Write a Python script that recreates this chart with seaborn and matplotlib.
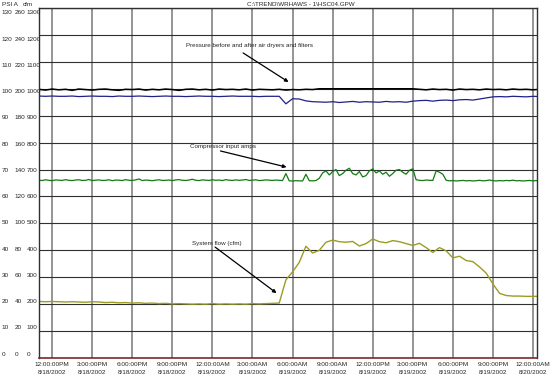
import numpy as np
import pandas as pd
import matplotlib
matplotlib.use("Agg")
import matplotlib.pyplot as plt
import matplotlib.dates as mdates
import matplotlib.transforms as mtransforms
import seaborn as sns

# ---------------- data ----------------
title = "C:\\TREND\\WRHAWS - 1\\HSC04.GPW"
times30 = pd.date_range("2002-08-18 11:00", periods=76, freq="30min")
times15 = pd.date_range("2002-08-18 11:00", periods=151, freq="15min")

pressure_before = [
    99.8, 99.5, 99.9, 99.6, 99.8, 99.4, 99.9, 99.7, 99.5, 99.8,
    99.9, 99.6, 99.4, 99.8, 99.7, 99.9, 99.5, 99.8, 99.6, 99.9,
    99.7, 99.4, 99.8, 99.9, 99.6, 99.8, 99.5, 99.9, 99.7, 99.8,
    99.6, 99.9, 99.5, 99.8, 99.7, 99.6, 99.8,
    99.5, 99.7, 99.6, 99.8, 99.7,
    100.0, 100.0, 100.0, 100.0, 100.0, 100.0, 100.0, 100.0, 100.0, 100.0,
    100.0, 100.0, 100.0, 100.0, 100.0,
    99.8, 99.6, 99.9, 99.7, 99.8, 99.5, 99.9, 99.7, 99.8, 99.6,
    99.9, 99.7, 99.8, 99.6, 99.9, 99.7, 99.8, 99.6, 99.8]

pressure_after = [
    97.3, 97.2, 97.3, 97.2, 97.2, 97.3, 97.1, 97.2, 97.3, 97.2,
    97.2, 97.1, 97.3, 97.2, 97.2, 97.3, 97.2, 97.1, 97.2, 97.3,
    97.2, 97.2, 97.1, 97.2, 97.3, 97.2, 97.2, 97.1, 97.2, 97.3,
    97.2, 97.2, 97.2, 97.1, 97.2, 97.2, 97.2,
    94.4, 96.3, 96.2, 95.5, 95.2, 95.1, 95.0, 95.2, 94.9, 95.1,
    95.3, 95.0, 95.2, 95.1, 95.0, 95.3, 95.1, 95.2, 95.0, 95.4,
    95.6, 95.7, 95.4, 95.7, 95.8, 95.6, 95.9, 96.0, 95.8, 96.2,
    96.6, 97.0,
    97.1, 97.0, 97.2, 97.1, 97.0, 97.2, 97.1]

compressor_amps = [
    132.2, 131.8, 132.4, 132.0, 131.7, 132.3, 132.1, 131.9, 132.5, 132.0,
    131.8, 132.2, 132.4, 131.9, 132.0, 132.6, 131.8, 132.1, 132.3, 131.9,
    132.0, 132.4, 131.7, 132.2, 132.1, 131.8, 132.5, 132.0, 131.9, 132.3,
    133.0, 131.8, 132.2, 132.0, 131.7, 132.1, 132.4, 131.9, 132.0, 132.2,
    131.8, 132.3, 132.5, 132.0, 131.9, 132.2, 132.8, 132.0, 131.8, 132.3,
    132.1, 131.9, 132.4, 132.0, 132.2, 131.8, 132.5, 132.1, 131.9, 132.3,
    132.0, 132.2, 132.6, 131.9, 132.1, 132.4, 131.8, 132.0, 132.3, 132.1,
    131.9, 132.2, 132.0, 131.8,
    137.0,
    131.6, 131.5, 131.7, 131.6, 131.5,
    136.5,
    131.7, 131.6, 131.8,
    133.5,
    137.5, 139.0, 136.0, 138.5, 140.0, 135.5, 137.0, 139.5, 141.0, 137.0,
    136.0, 138.5, 134.5, 135.5, 139.0, 140.5, 137.5, 139.0, 136.5, 138.0,
    135.0, 137.0, 139.5, 140.0, 138.0, 136.5, 139.5, 140.5,
    132.4, 132.0, 131.8, 132.2, 132.0, 131.9,
    139.0, 138.0, 136.5,
    132.0, 131.6, 131.8, 131.5, 131.7, 131.9, 131.6, 131.8, 131.5, 131.7,
    132.0, 131.6, 131.8, 132.2, 131.7, 131.5, 131.8, 131.6, 131.9, 131.7,
    132.1, 131.6, 131.8, 131.5, 131.7, 131.9, 131.6, 131.8, 131.5]

system_flow_cfm = [
    210, 209, 210, 209, 208, 209, 208, 207, 209, 208,
    206, 207, 205, 206, 204, 205, 203, 204, 202, 203,
    201, 202, 201, 200, 201, 200, 202, 200, 201, 200,
    201, 200, 202, 201, 202, 203, 204,
    290, 320, 355, 415, 390, 400, 430, 438, 432, 430,
    433, 416, 425, 442, 432, 428, 436, 432, 425, 418,
    426, 410, 392, 410, 398, 372, 378, 362, 358, 338,
    315, 275, 240, 232, 230, 230, 229, 229, 229]

psi_labels = [0, 10, 20, 30, 40, 50, 60, 70, 80, 90, 100, 110, 120, 130]
amp_labels = [0, 20, 40, 60, 80, 100, 120, 140, 160, 180, 200, 220, 240, 260]
cfm_labels = [0, 100, 200, 300, 400, 500, 600, 700, 800, 900, 1000, 1100, 1200, 1300]

tick_times = pd.date_range("2002-08-18 12:00", "2002-08-20 00:00", freq="3h")
tick_labels = [
    "12:00:00PM\n8/18/2002", "3:00:00PM\n8/18/2002", "6:00:00PM\n8/18/2002",
    "9:00:00PM\n8/18/2002", "12:00:00AM\n8/19/2002", "3:00:00AM\n8/19/2002",
    "6:00:00AM\n8/19/2002", "9:00:00AM\n8/19/2002", "12:00:00PM\n8/19/2002",
    "3:00:00PM\n8/19/2002", "6:00:00PM\n8/19/2002", "9:00:00PM\n8/19/2002",
    "12:00:00AM\n8/20/2002"]

# ---------------- plot ----------------
sns.set_style("white")
plt.rcParams["font.family"] = ["Liberation Sans", "DejaVu Sans"]

W, H = 550, 377
fig = plt.figure(figsize=(W / 100, H / 100), dpi=100)
ax = fig.add_axes([39 / W, 1 - 358 / H, (537 - 39) / W, (358 - 8) / H])

amp_scale = amp_labels[-1] / psi_labels[-1]
cfm_scale = cfm_labels[-1] / psi_labels[-1]

sns.lineplot(x=times30, y=np.array(system_flow_cfm) / cfm_scale, ax=ax,
             color="#9c9c22", linewidth=1.0)
sns.lineplot(x=times15, y=np.array(compressor_amps) / amp_scale, ax=ax,
             color="#127a12", linewidth=0.9)
sns.lineplot(x=times30, y=pressure_after, ax=ax, color="#202088", linewidth=0.9)
sns.lineplot(x=times30, y=pressure_before, ax=ax, color="#000000", linewidth=1.1)

ax.set_xlim(pd.Timestamp("2002-08-18 11:01"), pd.Timestamp("2002-08-20 00:18"))
ax.set_ylim(0, 130)
ax.set_yticks(psi_labels)
ax.set_yticklabels([])
ax.set_xticks(mdates.date2num(tick_times))
ax.set_xticklabels(tick_labels, fontsize=4.6, linespacing=1.6)
ax.tick_params(axis="both", length=0, pad=3)
ax.set_xlabel("")
ax.set_ylabel("")

ax.yaxis.grid(True, color="#303030", linewidth=0.8)
ax.xaxis.grid(True, color="#8c8c8c", linewidth=1.3)
ax.set_axisbelow(True)
for side in ["left", "top", "right"]:
    ax.spines[side].set_color("#303030")
    ax.spines[side].set_linewidth(1.0)
ax.spines["bottom"].set_color("#7a2a2a")
ax.spines["bottom"].set_linewidth(1.2)

# y label columns (slightly compressed relative to the grid, as in the original)
n = len(psi_labels) - 1
for k, (p, a, c) in enumerate(zip(psi_labels, amp_labels, cfm_labels)):
    ypix = 354 - k * (354 - 13) / n
    yf = 1 - ypix / H
    fig.text(1.5 / W, yf, str(p), fontsize=4.6, va="center", ha="left")
    fig.text(14.5 / W, yf, str(a), fontsize=4.6, va="center", ha="left")
    fig.text(26.5 / W, yf, str(c), fontsize=4.6, va="center", ha="left")

fig.text(1.5 / W, 1 - 4 / H, "PSI A", fontsize=4.6, va="center", ha="left")
fig.text(23 / W, 1 - 4 / H, "cfm", fontsize=4.6, va="center", ha="left")
fig.text(301 / W, 1 - 4 / H, title, fontsize=4.5, va="center", ha="center")

# annotations
def h(hours):
    return mdates.date2num(pd.Timestamp("2002-08-18 12:00") + pd.Timedelta(hours=hours))

arrow = dict(arrowstyle="-|>", color="black", lw=0.9, mutation_scale=5,
             shrinkA=0, shrinkB=0)
ax.text(h(10.05), 115.9, "Pressure before and after air dryers and filters",
        fontsize=4.5, va="center", ha="left")
ax.annotate("", xy=(h(17.7), 102.5), xytext=(h(14.3), 113.3), arrowprops=arrow)
ax.text(h(10.35), 78.6, "Compressor input amps", fontsize=4.5, va="center", ha="left")
ax.annotate("", xy=(h(17.55), 70.9), xytext=(h(12.6), 76.9), arrowprops=arrow)
ax.text(h(10.5), 42.7, "System flow (cfm)", fontsize=4.5, va="center", ha="left")
ax.annotate("", xy=(h(16.8), 24.1), xytext=(h(12.2), 41.2), arrowprops=arrow)

fig.savefig("out.png", dpi=100)
